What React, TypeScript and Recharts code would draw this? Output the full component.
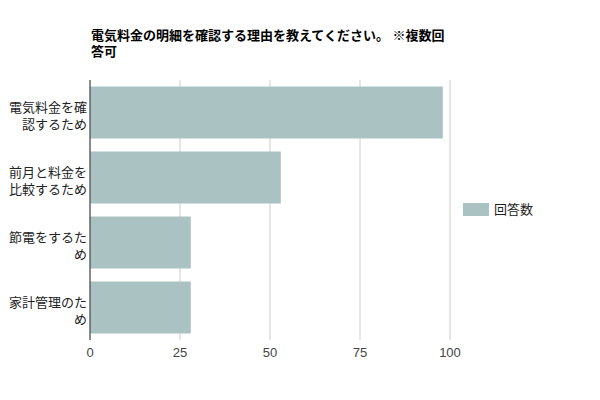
import React from 'react'
import { BarChart, Bar, XAxis, YAxis, CartesianGrid } from 'recharts'

const categories = [
  '電気料金を確認するため',
  '前月と料金を比較するため',
  '節電をするため',
  '家計管理のため',
]
const answers = [98, 53, 28, 28]
const xTicks = [0, 25, 50, 75, 100]
const titleLines = ['電気料金の明細を確認する理由を教えてください。 ※複数回', '答可']
const seriesName = '回答数'

const FONT = "'Liberation Sans', Arial, 'Noto Sans CJK JP', sans-serif"
const BAR_COLOR = '#abc2c3'

const data = categories.map((name, i) => ({ name, value: answers[i] }))

// Google Charts wraps these labels after six characters
const wrap = (s: string, n = 6) => {
  const out: string[] = []
  for (let i = 0; i < s.length; i += n) out.push(s.slice(i, i + n))
  return out
}

const CategoryTick = ({ x, y, payload }: any) => {
  const lines = wrap(String(payload.value))
  return (
    <text x={x} y={y} textAnchor="end" fill="#222" fontSize={13} fontFamily={FONT}>
      {lines.map((l, i) => (
        <tspan key={i} x={x} dy={i === 0 ? -1 : 17}>{l}</tspan>
      ))}
    </text>
  )
}

export default function App() {
  return (
    <div style={{ position: 'absolute', left: 0, top: 0, width: 600, height: 400, background: '#fff', fontFamily: FONT }}>
      <svg width={600} height={70} style={{ position: 'absolute', left: 0, top: 0 }}>
        {titleLines.map((t, i) => (
          <text key={i} x={91} y={40 + i * 16} fontSize={13} fontWeight="bold" fill="#000" fontFamily={FONT}>{t}</text>
        ))}
      </svg>

      <BarChart
        width={600}
        height={400}
        data={data}
        layout="vertical"
        margin={{ top: 80, right: 150, bottom: 30, left: 0 }}
        barCategoryGap="10%"
      >
        <CartesianGrid horizontal={false} stroke="#cccccc" strokeWidth={1} />
        <XAxis
          type="number"
          domain={[0, 100]}
          ticks={xTicks}
          axisLine={false}
          tickLine={false}
          height={30}
          tickMargin={2}
          tick={{ fill: '#444', fontSize: 13, fontFamily: FONT }}
        />
        <YAxis
          type="category"
          dataKey="name"
          width={90}
          axisLine={{ stroke: '#333', strokeWidth: 1 }}
          tickLine={false}
          tickSize={0}
          tickMargin={3}
          tick={<CategoryTick />}
          interval={0}
        />
        <Bar dataKey="value" name={seriesName} fill={BAR_COLOR} isAnimationActive={false} />
      </BarChart>

      <div style={{ position: 'absolute', left: 463, top: 203, display: 'flex', alignItems: 'center' }}>
        <div style={{ width: 26, height: 13, background: BAR_COLOR }} />
        <span style={{ marginLeft: 5, fontSize: 13, color: '#222', lineHeight: '13px' }}>{seriesName}</span>
      </div>
    </div>
  )
}
